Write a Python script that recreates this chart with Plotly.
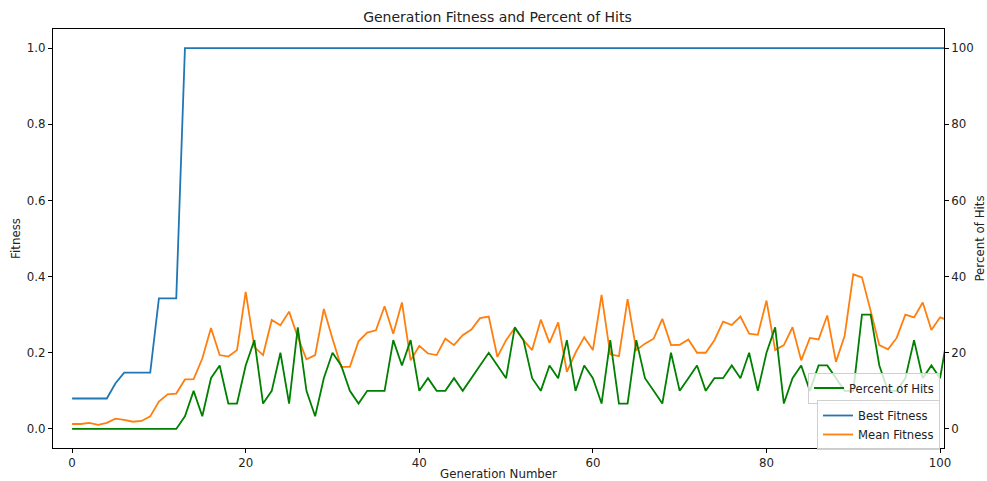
import plotly.graph_objects as go

generations = list(range(0, 102))

best_fitness = [0.08] * 5 + [0.12] + [0.148] * 4 + [0.343] * 3 + [1.0] * 89

mean_fitness = [
    0.013, 0.013, 0.016, 0.011, 0.016, 0.027, 0.024, 0.019, 0.021, 0.033,
    0.072, 0.091, 0.093, 0.130, 0.131, 0.185, 0.265, 0.194, 0.190, 0.207,
    0.360, 0.215, 0.194, 0.286, 0.272, 0.308, 0.241, 0.183, 0.194, 0.315,
    0.237, 0.163, 0.163, 0.230, 0.253, 0.259, 0.322, 0.250, 0.332, 0.180,
    0.218, 0.198, 0.194, 0.237, 0.220, 0.246, 0.261, 0.291, 0.295, 0.189,
    0.233, 0.265, 0.233, 0.207, 0.287, 0.226, 0.280, 0.150, 0.200, 0.241,
    0.207, 0.352, 0.196, 0.191, 0.341, 0.207, 0.224, 0.237, 0.289, 0.220,
    0.221, 0.235, 0.200, 0.200, 0.233, 0.282, 0.273, 0.295, 0.250, 0.247,
    0.337, 0.207, 0.220, 0.267, 0.180, 0.239, 0.235, 0.298, 0.176, 0.244,
    0.406, 0.398, 0.310, 0.220, 0.209, 0.239, 0.300, 0.293, 0.332, 0.260,
    0.293, 0.285,
]

percent_hits = [
    0, 0, 0, 0, 0, 0, 0, 0, 0, 0,
    0, 0, 0, 3.33, 10, 3.33, 13.33, 16.67, 6.67, 6.67,
    16.67, 23.33, 6.67, 10, 20, 6.67, 26.67, 10, 3.33, 13.33,
    20, 16.67, 10, 6.67, 10, 10, 10, 23.33, 16.67, 23.33,
    10, 13.33, 10, 10, 13.33, 10, 13.33, 16.67, 20, 16.67,
    13.33, 26.67, 23.33, 13.33, 10, 16.67, 13.33, 23.33, 10, 16.67,
    13.33, 6.67, 23.33, 6.67, 6.67, 23.33, 13.33, 10, 6.67, 20,
    10, 13.33, 16.67, 10, 13.33, 13.33, 16.67, 13.33, 20, 10,
    20, 26.67, 6.67, 13.33, 16.67, 10, 16.67, 16.67, 13.33, 10,
    10, 30, 30, 16.67, 10, 10, 13.33, 23.33, 13.33, 16.67,
    13.33, 26.67,
]

x_ticks = [0, 20, 40, 60, 80, 100]
left_ticks = [0.0, 0.2, 0.4, 0.6, 0.8, 1.0]
right_ticks = [0, 20, 40, 60, 80, 100]

FONT = "DejaVu Sans"
TXT = "#222222"
FS = 11.8

fig = go.Figure()
fig.add_trace(go.Scatter(x=generations, y=best_fitness, mode="lines", name="Best Fitness",
                         line=dict(color="#1f77b4", width=1.8), legend="legend2"))
fig.add_trace(go.Scatter(x=generations, y=mean_fitness, mode="lines", name="Mean Fitness",
                         line=dict(color="#ff7f0e", width=1.8), legend="legend2"))
fig.add_trace(go.Scatter(x=generations, y=percent_hits, mode="lines", name="Percent of Hits",
                         line=dict(color="green", width=1.8), yaxis="y2", legend="legend"))

axis_common = dict(showgrid=False, zeroline=False, showline=True, linecolor="black", linewidth=1,
                   ticks="outside", ticklen=4, tickcolor="black", tickwidth=1, automargin=False,
                   tickfont=dict(family=FONT, size=FS, color=TXT))

legend_style = dict(bgcolor="rgba(255,255,255,0.8)", bordercolor="#d0d0d0", borderwidth=1,
                    font=dict(family=FONT, size=11.6, color=TXT), xanchor="right", yanchor="middle",
                    itemwidth=30, tracegroupgap=0)

fig.update_layout(
    width=987, height=481,
    margin=dict(l=53, r=43, t=29, b=33, autoexpand=False),
    paper_bgcolor="white", plot_bgcolor="white",
    font=dict(family=FONT, size=FS, color=TXT),
    title=dict(text="Generation Fitness and Percent of Hits", x=0.504, xanchor="center",
               y=1 - 17 / 481, yanchor="middle", yref="container",
               font=dict(family=FONT, size=14, color=TXT)),
    xaxis=dict(range=[-2.2, 100.45], tickvals=x_ticks, mirror=True,
               title=dict(text="Generation Number", standoff=3,
                          font=dict(family=FONT, size=FS, color=TXT)),
               **axis_common),
    yaxis=dict(range=[-0.05, 1.05], tickvals=left_ticks, tickformat=".1f",
               title=dict(text="Fitness", standoff=3, font=dict(family=FONT, size=FS, color=TXT)),
               **axis_common),
    yaxis2=dict(range=[-5, 105], tickvals=right_ticks, overlaying="y", side="right",
                title=dict(text="Percent of Hits", standoff=3, font=dict(family=FONT, size=FS, color=TXT)),
                **axis_common),
    legend=dict(x=0.9955, y=(448 - 388) / 419, **legend_style),
    legend2=dict(x=0.9955, y=(448 - 425) / 419, **legend_style),
    showlegend=True,
)

fig.write_html("out.html", config={"displayModeBar": False},
               post_script="document.body.style.margin='0';document.body.style.overflow='hidden';")
